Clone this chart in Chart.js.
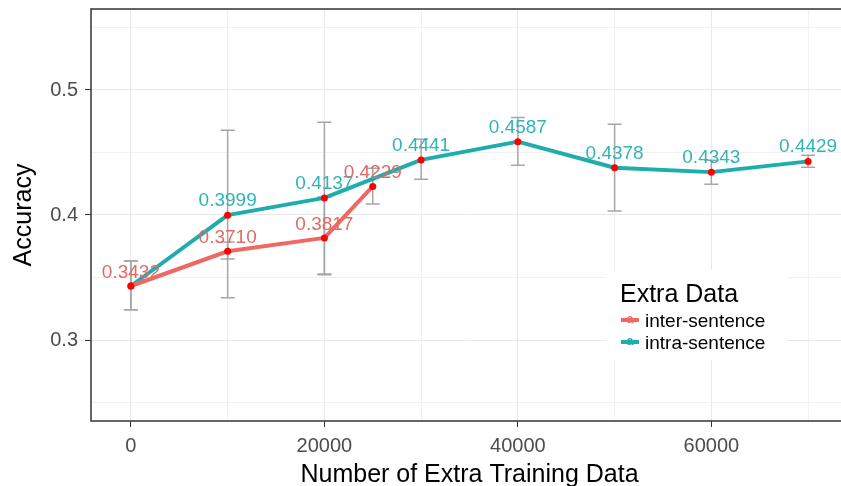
<!DOCTYPE html>
<html>
<head>
<meta charset="utf-8">
<script src="https://cdn.jsdelivr.net/npm/chart.js@4"></script>
<style>
html,body{margin:0;padding:0;background:#fff;overflow:hidden}
#outer{width:841px;height:486px;overflow:hidden;position:relative}
#wrap{width:852px;height:486px;position:relative}
</style>
</head>
<body>
<div id="outer"><div id="wrap"><canvas id="c"></canvas></div></div>
<script>
// data
let interX=[0,10000,20000,25000]
let interAcc=[0.3432,0.3710,0.3817,0.4229]
let interLo=[0.3242,0.3649,0.3528,0.4088]
let interHi=[0.3633,0.3785,0.4144,0.4375]

let intraX=[0,10000,20000,30000,40000,50000,60000,70000]
let intraAcc=[0.3432,0.3999,0.4137,0.4441,0.4587,0.4378,0.4343,0.4429]
let intraLo=[0.3242,0.3338,0.3522,0.4287,0.4399,0.4032,0.4247,0.4383]
let intraHi=[0.3633,0.4678,0.4742,0.4606,0.4781,0.4726,0.4439,0.4478]

let yTicks=[0.25,0.3,0.35,0.4,0.45,0.5,0.55]
let yMajor=[0.3,0.4,0.5]
let xTicks=[0,10000,20000,30000,40000,50000,60000,70000]
let xMajor=[0,20000,40000,60000]

let seriesNames=["inter-sentence","intra-sentence"]
let legendTitle="Extra Data"

let RED="#EF6863",TEAL="#1DADAD"
let REDTXT="#E26A66",TEALTXT="#30B4B6"
let FONT="'Liberation Sans', Arial, sans-serif"

function pts(xs,ys){return xs.map((x,i)=>({x:x,y:ys[i]}))}
function isMajor(list,v){return list.some(m=>Math.abs(m-v)<1e-9)}

let extras={
id:"extras",
beforeDatasetsDraw(chart){
let ctx=chart.ctx,xs=chart.scales.x,ys=chart.scales.y
ctx.save()
ctx.strokeStyle="#A6A6A6"
ctx.lineWidth=1.5
let bars=[[intraX,intraLo,intraHi],[interX,interLo,interHi]]
bars.forEach(b=>{
b[0].forEach((x,i)=>{
let px=xs.getPixelForValue(x)
let p1=ys.getPixelForValue(b[1][i]),p2=ys.getPixelForValue(b[2][i])
ctx.beginPath()
ctx.moveTo(px,p1);ctx.lineTo(px,p2)
ctx.moveTo(px-7,p1);ctx.lineTo(px+7,p1)
ctx.moveTo(px-7,p2);ctx.lineTo(px+7,p2)
ctx.stroke()
})
})
ctx.restore()
},
afterDatasetsDraw(chart){
let ctx=chart.ctx,xs=chart.scales.x,ys=chart.scales.y,a=chart.chartArea
ctx.save()
// value labels
ctx.font="19px "+FONT
ctx.textAlign="center"
ctx.textBaseline="alphabetic"
ctx.fillStyle=TEALTXT
intraX.forEach((x,i)=>{
if(i==0) return
ctx.fillText(intraAcc[i].toFixed(4),xs.getPixelForValue(x),ys.getPixelForValue(intraAcc[i])-9)
})
ctx.fillStyle=REDTXT
interX.forEach((x,i)=>{
ctx.fillText(interAcc[i].toFixed(4),xs.getPixelForValue(x),ys.getPixelForValue(interAcc[i])-8)
})
// panel border
ctx.strokeStyle="#333"
ctx.lineWidth=1.5
ctx.strokeRect(a.left,a.top,a.right-a.left,a.bottom-a.top)
// legend
ctx.fillStyle="#fff"
ctx.fillRect(606,270,181,90)
ctx.fillStyle="#000"
ctx.textAlign="left"
ctx.font="25px "+FONT
ctx.fillText(legendTitle,620,302)
let cols=[RED,TEAL]
seriesNames.forEach((n,i)=>{
let yy=320+i*22
ctx.strokeStyle=cols[i]
ctx.lineWidth=4
ctx.beginPath();ctx.moveTo(621,yy);ctx.lineTo(639,yy);ctx.stroke()
ctx.fillStyle=cols[i]
ctx.font="bold 12px "+FONT
ctx.textAlign="center"
ctx.fillText("a",630,yy+3)
ctx.fillStyle="#000"
ctx.font="19px "+FONT
ctx.textAlign="left"
ctx.fillText(n,645,yy+7)
})
ctx.restore()
}
}

new Chart(document.getElementById("c"),{
type:"line",
data:{datasets:[
{label:seriesNames[0],data:pts(interX,interAcc),borderColor:RED,borderWidth:4,
pointRadius:3.5,pointBackgroundColor:"#FF0000",pointBorderWidth:0,borderCapStyle:"round",borderJoinStyle:"round"},
{label:seriesNames[1],data:pts(intraX,intraAcc),borderColor:TEAL,borderWidth:4,
pointRadius:3.5,pointBackgroundColor:"#FF0000",pointBorderWidth:0,borderCapStyle:"round",borderJoinStyle:"round"}
]},
options:{
responsive:true,maintainAspectRatio:false,animation:false,
layout:{padding:{top:9,right:2,left:0,bottom:0}},
plugins:{legend:{display:false},tooltip:{enabled:false}},
scales:{
x:{type:"linear",min:-4124,max:74124,
afterBuildTicks(s){s.ticks=xTicks.map(v=>({value:v}))},
afterFit(s){s.height=65;s.paddingLeft=0;s.paddingRight=0},
grid:{color:c=>isMajor(xMajor,c.tick.value)?"#E8E8E8":"#F1F1F1",lineWidth:1,
tickColor:c=>isMajor(xMajor,c.tick.value)?"#333":"rgba(0,0,0,0)",tickLength:6},
border:{display:false},
ticks:{color:"#4D4D4D",font:{family:FONT,size:20},padding:7,maxRotation:0,autoSkip:false,
callback:v=>isMajor(xMajor,v)?String(v):""},
title:{display:true,text:"Number of Extra Training Data",color:"#000",
font:{family:FONT,size:25,lineHeight:1},padding:{top:0,bottom:-2}}
},
y:{type:"linear",min:0.2352,max:0.5648,
afterBuildTicks(s){s.ticks=yTicks.map(v=>({value:v}))},
afterFit(s){s.width=91;s.paddingTop=0;s.paddingBottom=0},
grid:{color:c=>isMajor(yMajor,c.tick.value)?"#E8E8E8":"#F1F1F1",lineWidth:1,
tickColor:c=>isMajor(yMajor,c.tick.value)?"#333":"rgba(0,0,0,0)",tickLength:6},
border:{display:false},
ticks:{color:"#4D4D4D",font:{family:FONT,size:20},padding:7,autoSkip:false,
callback:v=>isMajor(yMajor,v)?v.toFixed(1):""},
title:{display:true,text:"Accuracy",color:"#000",
font:{family:FONT,size:25,lineHeight:1},padding:{top:12,bottom:0}}
}
}
},
plugins:[extras]
})
</script>
</body>
</html>
